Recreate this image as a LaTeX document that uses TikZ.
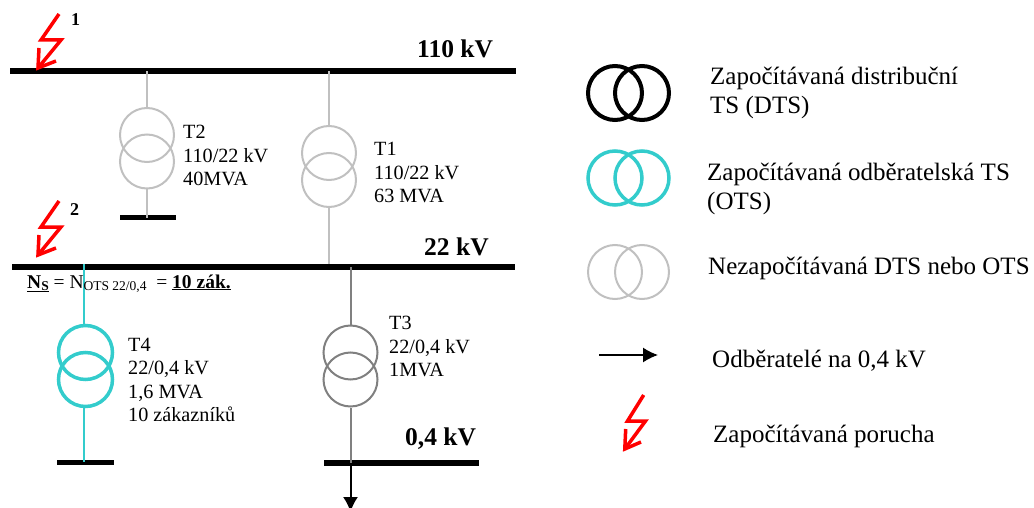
\documentclass[tikz,border=0pt]{standalone}
\usepackage{fontspec}
\setmainfont{Liberation Serif}
\usetikzlibrary{arrows.meta}
\definecolor{otscyan}{RGB}{51,204,204}
\definecolor{dtsgray}{RGB}{192,192,192}
\definecolor{midgray}{RGB}{128,128,128}
\tikzset{
    bus/.style={fill=black,inner sep=0pt,minimum height=5.5pt},
    winding/.style={circle,draw,inner sep=0pt,minimum size=54pt},
    trlabel/.style={anchor=north west,inner sep=0pt,align=left,font=\fontsize{20.2}{23.5}\selectfont},
    voltage/.style={anchor=base west,inner sep=0pt,font=\fontsize{25.5}{28}\selectfont\bfseries},
    faultno/.style={anchor=base west,inner sep=0pt,font=\fontsize{18}{20}\selectfont\bfseries},
    legendtext/.style={anchor=north west,inner sep=0pt,align=left,font=\fontsize{25}{29}\selectfont},
    porucha/.pic={
        \draw[red,line width=3.5pt] (23,-57) -- (5,-31) -- (25,-31) -- (2,-3);
        \draw[red,line width=3.5pt] (3,-23) -- (2,-3) -- (20,-10);
    }
}
\begin{document}
\begin{tikzpicture}[x=1pt,y=-1pt]
    \useasboundingbox (0,0) rectangle (1034,508);

    % Busbars
    \node[bus,minimum width=506pt] (bus110) at (263,71) {};
    \node[bus,minimum width=503pt] (bus22) at (263.5,267) {};
    \node[bus,minimum width=56pt,minimum height=5pt] (busT2) at (148,217.5) {};
    \node[bus,minimum width=57pt,minimum height=5pt] (busT4) at (85.5,462) {};
    \node[bus,minimum width=155pt,minimum height=6pt] (bus04) at (401.5,463) {};

    % T1 and T2, not counted
    \begin{scope}[dtsgray,line width=2pt]
        \node[winding] (T2a) at (147,135) {};
        \node[winding] (T2b) at (147,161.5) {};
        \draw (T2a.north) -- (T2a.north |- bus110);
        \draw (T2b.south) -- (T2b.south |- busT2);
        \node[winding] (T1a) at (329,153) {};
        \node[winding] (T1b) at (329,180) {};
        \draw (T1a.north) -- (T1a.north |- bus110);
        \draw (T1b.south) -- (T1b.south |- bus22.north);
    \end{scope}

    % T3
    \begin{scope}[midgray,line width=2pt]
        \node[winding] (T3a) at (350.5,352.5) {};
        \node[winding] (T3b) at (350.5,379.5) {};
        \draw (T3a.north) -- (T3a.north |- bus22);
        \draw (T3b.south) -- (T3b.south |- bus04);
    \end{scope}
    \coordinate (out04) at (350.5,512);
    \draw[line width=2pt,-{Latex[length=15pt,width=15pt]}] (bus04 -| T3b) -- (out04);

    % T4, counted
    \begin{scope}[otscyan,line width=2pt]
        \node[winding,line width=3.5pt] (T4a) at (85.5,352.5) {};
        \node[winding,line width=3.5pt] (T4b) at (85.5,379.5) {};
        \draw ([xshift=-1.5pt]T4a.north) -- ([xshift=-1.5pt]T4a.north |- bus22.north);
        \draw ([xshift=-1.5pt]T4b.south) -- ([xshift=-1.5pt]T4b.south |- busT4);
    \end{scope}

    % Voltage levels and transformer data
    \node[voltage] (u110) at (417,58) {110 kV};
    \node[voltage] (u22) at (424,255) {22 kV};
    \node[voltage] (u04) at (405,445) {0,4 kV};
    \node[trlabel] (lblT2) at (183,125) {T2\\110/22 kV\\40MVA};
    \node[trlabel] (lblT1) at (374,142) {T1\\110/22 kV\\63 MVA};
    \node[trlabel] (lblT3) at (389,316) {T3\\22/0,4 kV\\1MVA};
    \node[trlabel] (lblT4) at (128,338) {T4\\22/0,4 kV\\1,6 MVA\\10 zákazníků};

    % Faults
    \pic (f1) at (36,71) {porucha};
    \pic (f2) at (36,258) {porucha};
    \node[faultno] (no1) at (71,26) {1};
    \node[faultno] (no2) at (70,215) {2};
    \node[anchor=base west,inner sep=0pt,font=\fontsize{19.5}{22}\selectfont] (ns) at (27,288)
        {\underline{\textbf{N\raisebox{-2pt}{\fontsize{13.5}{15}\selectfont S}}} = N\raisebox{-2pt}{\fontsize{13.5}{15}\selectfont OTS 22/0,4}\ \ = \underline{\textbf{10 zák.}}};

    % Legend
    \begin{scope}[line width=4pt]
        \node[winding] (legDa) at (615,93) {};
        \node[winding] (legDb) at (642,93) {};
    \end{scope}
    \begin{scope}[otscyan,line width=3.5pt]
        \node[winding] (legOa) at (615,178) {};
        \node[winding] (legOb) at (642,178) {};
    \end{scope}
    \begin{scope}[dtsgray,line width=2pt]
        \node[winding] (legNa) at (615,272) {};
        \node[winding] (legNb) at (642,272) {};
    \end{scope}
    \coordinate (legAa) at (599,355);
    \coordinate (legAb) at (658,355);
    \draw[line width=1.5pt,-{Latex[length=15pt,width=15pt]}] (legAa) -- (legAb);
    \pic[xscale=0.9] (f3) at (623,452) {porucha};
    \node[legendtext] (txtD) at (710,67) {Započítávaná distribuční\\TS (DTS)};
    \node[legendtext] (txtO) at (707,163) {Započítávaná odběratelská TS\\(OTS)};
    \node[legendtext] (txtN) at (708,257) {Nezapočítávaná DTS nebo OTS};
    \node[legendtext] (txtA) at (712,350) {Odběratelé na 0,4 kV};
    \node[legendtext] (txtF) at (713,425) {Započítávaná porucha};
\end{tikzpicture}
\end{document}
